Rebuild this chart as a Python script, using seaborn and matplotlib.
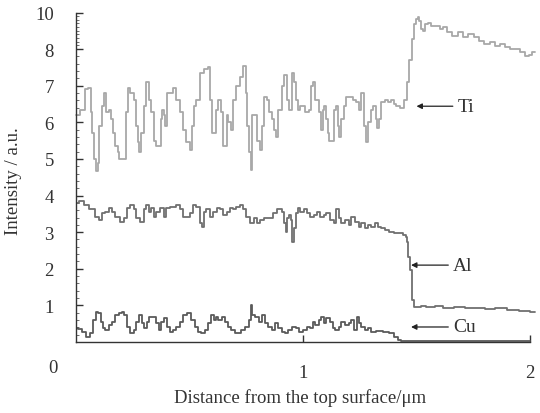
"""
EDX line profile: Ti, Al, Cu intensity vs. distance from the top surface
"""

import numpy as np
import pandas as pd
import matplotlib
matplotlib.use("Agg")
import matplotlib.pyplot as plt
import seaborn as sns
from matplotlib.ticker import FixedLocator, MultipleLocator

sns.set_style("ticks")
plt.rcParams['font.family'] = ['Liberation Serif', 'DejaVu Serif']
plt.rcParams['mathtext.fontset'] = 'stix'

# ---- data ----
ti_x = [0.000, 0.031, 0.048, 0.062, 0.070, 0.075, 0.084, 0.093, 0.101, 0.106,
        0.119, 0.128, 0.137, 0.150, 0.159, 0.163, 0.181, 0.185, 0.194, 0.216,
        0.225, 0.233, 0.247, 0.260, 0.269, 0.273, 0.282, 0.291, 0.304, 0.313,
        0.326, 0.339, 0.348, 0.357, 0.370, 0.379, 0.383, 0.392, 0.396, 0.405,
        0.423, 0.436, 0.449, 0.467, 0.480, 0.493, 0.511, 0.515, 0.524, 0.537,
        0.555, 0.577, 0.586, 0.595, 0.599, 0.612, 0.621, 0.634, 0.643, 0.648,
        0.661, 0.665, 0.678, 0.687, 0.692, 0.700, 0.714, 0.731, 0.744, 0.753,
        0.758, 0.767, 0.771, 0.780, 0.797, 0.802, 0.815, 0.824, 0.833, 0.846,
        0.855, 0.868, 0.877, 0.885, 0.899, 0.912, 0.925, 0.934, 0.947, 0.956,
        0.965, 0.974, 0.978, 0.996, 1.018, 1.031, 1.040, 1.044, 1.062, 1.075,
        1.084, 1.088, 1.097, 1.106, 1.110, 1.119, 1.132, 1.141, 1.150, 1.154,
        1.163, 1.172, 1.185, 1.194, 1.216, 1.225, 1.238, 1.251, 1.264, 1.273,
        1.282, 1.291, 1.304, 1.313, 1.326, 1.330, 1.339, 1.352, 1.370, 1.383,
        1.396, 1.405, 1.418, 1.440, 1.454, 1.462, 1.476, 1.484, 1.493, 1.502,
        1.507, 1.515, 1.524, 1.533, 1.546, 1.559, 1.573, 1.595, 1.612, 1.625,
        1.647, 1.670, 1.692, 1.714, 1.744, 1.766, 1.788, 1.810, 1.837, 1.859,
        1.881, 1.903, 1.925, 1.943, 1.965, 1.987, 2.000, 2.022]
ti_y = [6.2, 6.35, 6.9, 6.95, 6.27, 5.7, 5.0, 4.66, 4.9, 5.9,
        6.45, 6.8, 6.27, 6.35, 6.1, 5.7, 5.35, 5.2, 5.0, 5.0,
        6.27, 6.95, 6.8, 6.6, 5.9, 5.45, 5.2, 5.7, 6.45, 7.1,
        6.6, 6.27, 5.5, 5.35, 5.35, 6.1, 6.35, 6.2, 5.9, 6.8,
        6.8, 6.95, 6.6, 6.27, 5.8, 5.45, 5.25, 5.9, 6.45, 6.6,
        7.35, 7.45, 7.5, 6.6, 5.7, 5.7, 6.35, 6.6, 6.27, 5.35,
        5.35, 6.2, 6.0, 5.8, 6.6, 6.6, 7.0, 7.25, 7.55, 6.8,
        5.9, 5.2, 4.7, 6.2, 6.2, 5.5, 5.25, 5.9, 6.7, 6.6,
        6.27, 6.1, 5.8, 5.6, 6.35, 7.0, 7.3, 6.6, 6.35, 7.35,
        7.1, 6.6, 6.35, 6.45, 6.27, 6.35, 7.0, 7.1, 6.6, 6.27,
        5.8, 6.35, 6.45, 6.1, 5.7, 5.5, 5.5, 6.35, 6.45, 5.9,
        5.6, 6.1, 6.45, 6.7, 6.7, 6.6, 6.55, 6.35, 6.8, 5.9,
        5.45, 6.0, 6.35, 6.45, 6.1, 5.85, 6.1, 6.55, 6.6, 6.55,
        6.6, 6.5, 6.45, 6.4, 6.6, 7.1, 7.7, 8.55, 9.37, 9.64,
        9.75, 9.53, 9.1, 9.0, 9.37, 9.42, 9.26, 9.26, 9.1, 9.2,
        8.93, 8.7, 8.93, 8.66, 8.82, 8.66, 8.44, 8.27, 8.38, 8.16,
        8.27, 8.1, 8.0, 8.03, 7.92, 7.8, 7.83, 7.92]

al_x = [0.004, 0.026, 0.048, 0.070, 0.093, 0.106, 0.119, 0.137, 0.150, 0.163,
        0.181, 0.203, 0.216, 0.229, 0.247, 0.260, 0.273, 0.291, 0.304, 0.313,
        0.326, 0.339, 0.348, 0.361, 0.379, 0.392, 0.405, 0.423, 0.436, 0.449,
        0.467, 0.480, 0.493, 0.511, 0.524, 0.537, 0.555, 0.559, 0.568, 0.581,
        0.599, 0.612, 0.626, 0.643, 0.656, 0.670, 0.687, 0.700, 0.714, 0.731,
        0.744, 0.758, 0.775, 0.789, 0.802, 0.819, 0.841, 0.863, 0.877, 0.890,
        0.899, 0.912, 0.921, 0.929, 0.934, 0.943, 0.951, 0.956, 0.965, 0.974,
        0.978, 0.996, 1.009, 1.022, 1.040, 1.053, 1.066, 1.084, 1.097, 1.110,
        1.128, 1.141, 1.150, 1.163, 1.176, 1.194, 1.207, 1.220, 1.238, 1.251,
        1.264, 1.282, 1.295, 1.308, 1.326, 1.339, 1.352, 1.370, 1.392, 1.414,
        1.436, 1.449, 1.458, 1.462, 1.467, 1.476, 1.480, 1.484, 1.493, 1.507,
        1.529, 1.559, 1.603, 1.634, 1.692, 1.736, 1.780, 1.824, 1.868, 1.925,
        1.978, 2.022]
al_y = [3.81, 3.84, 3.75, 3.62, 3.42, 3.34, 3.53, 3.56, 3.67, 3.56,
        3.42, 3.29, 3.4, 3.67, 3.75, 3.62, 3.4, 3.29, 3.62, 3.75,
        3.56, 3.67, 3.42, 3.56, 3.67, 3.42, 3.67, 3.7, 3.7, 3.75,
        3.62, 3.42, 3.42, 3.53, 3.75, 3.7, 3.26, 3.15, 3.56, 3.62,
        3.42, 3.56, 3.67, 3.62, 3.48, 3.56, 3.67, 3.62, 3.7, 3.75,
        3.62, 3.42, 3.26, 3.4, 3.26, 3.34, 3.4, 3.4, 3.53, 3.62,
        3.62, 3.56, 3.26, 3.0, 3.4, 3.48, 3.34, 2.74, 3.12, 3.53,
        3.67, 3.56, 3.62, 3.53, 3.42, 3.48, 3.56, 3.42, 3.48, 3.53,
        3.34, 3.26, 3.62, 3.4, 3.26, 3.34, 3.2, 3.42, 3.29, 3.15,
        3.26, 3.12, 3.2, 3.15, 3.26, 3.15, 3.12, 3.07, 3.01, 2.98,
        2.98, 2.93, 2.88, 2.74, 2.33, 1.97, 1.7, 1.15, 0.96, 0.96,
        0.99, 0.95, 0.97, 0.94, 0.96, 0.93, 0.93, 0.91, 0.92, 0.88,
        0.86, 0.82]

cu_x = [0.004, 0.018, 0.031, 0.053, 0.070, 0.084, 0.093, 0.101, 0.115, 0.119,
        0.137, 0.150, 0.163, 0.181, 0.194, 0.207, 0.220, 0.229, 0.247, 0.260,
        0.273, 0.286, 0.295, 0.308, 0.317, 0.330, 0.344, 0.357, 0.370, 0.383,
        0.396, 0.405, 0.423, 0.436, 0.449, 0.467, 0.480, 0.502, 0.515, 0.533,
        0.546, 0.559, 0.577, 0.590, 0.603, 0.612, 0.621, 0.634, 0.648, 0.665,
        0.678, 0.692, 0.709, 0.722, 0.736, 0.753, 0.767, 0.775, 0.780, 0.797,
        0.811, 0.824, 0.841, 0.855, 0.868, 0.885, 0.899, 0.912, 0.929, 0.943,
        0.956, 0.978, 0.987, 1.009, 1.022, 1.040, 1.044, 1.062, 1.075, 1.084,
        1.097, 1.110, 1.128, 1.132, 1.150, 1.163, 1.176, 1.194, 1.207, 1.220,
        1.233, 1.242, 1.251, 1.264, 1.282, 1.295, 1.308, 1.339, 1.370, 1.392,
        1.414, 1.427, 1.440, 1.559, 1.692, 1.824, 2.000]
cu_y = [0.38, 0.36, 0.27, 0.14, 0.25, 0.6, 0.82, 0.8, 0.55, 0.38,
        0.33, 0.47, 0.55, 0.74, 0.79, 0.82, 0.74, 0.41, 0.25, 0.33,
        0.55, 0.74, 0.52, 0.38, 0.55, 0.68, 0.68, 0.52, 0.33, 0.55,
        0.66, 0.41, 0.27, 0.33, 0.41, 0.55, 0.74, 0.79, 0.6, 0.41,
        0.27, 0.25, 0.33, 0.52, 0.74, 0.6, 0.68, 0.6, 0.68, 0.55,
        0.41, 0.33, 0.25, 0.25, 0.33, 0.41, 0.6, 1.01, 0.74, 0.68,
        0.55, 0.74, 0.52, 0.41, 0.33, 0.52, 0.38, 0.27, 0.25, 0.33,
        0.41, 0.38, 0.27, 0.33, 0.41, 0.38, 0.55, 0.47, 0.6, 0.68,
        0.52, 0.66, 0.55, 0.38, 0.33, 0.41, 0.55, 0.47, 0.52, 0.6,
        0.33, 0.68, 0.52, 0.41, 0.33, 0.38, 0.27, 0.3, 0.27, 0.25,
        0.14, 0.06, 0.04, 0.04, 0.04, 0.04, 0.04]

series_names = ['Ti', 'Al', 'Cu']
series_colors = {'Ti': '#a8a8a8', 'Al': '#707070', 'Cu': '#5a5a5a'}
y_ticks = [1, 2, 3, 4, 5, 6, 7, 8, 10]
x_ticks = [1, 2]

# label arrows: (arrow head x, tail x, y)
arrow_pos = {'Ti': (1.50, 1.66, 6.44), 'Al': (1.476, 1.64, 2.1), 'Cu': (1.476, 1.64, 0.41)}


# y axis is linear up to 8 then compressed by half up to 10
def fwd(v):
    v = np.asarray(v, dtype=float)
    return np.where(v <= 8, v, 8 + (v - 8) / 2.0)


def inv(t):
    t = np.asarray(t, dtype=float)
    return np.where(t <= 8, t, 8 + (t - 8) * 2.0)


frames = []
for name, xs, ys in [('Ti', ti_x, ti_y), ('Al', al_x, al_y), ('Cu', cu_x, cu_y)]:
    frames.append(pd.DataFrame({'x': xs, 'y': ys, 'el': name}))
df = pd.concat(frames, ignore_index=True)

fig = plt.figure(figsize=(5.4, 4.14), dpi=100)
ax = fig.add_axes([76 / 540, 1 - 343 / 414, 454 / 540, (343 - 13.5) / 414])
ax.set_yscale('function', functions=(fwd, inv))

for name in series_names:
    sub = df[df['el'] == name]
    sns.lineplot(data=sub, x='x', y='y', ax=ax, color=series_colors[name],
                 lw=1.3, estimator=None, sort=False, clip_on=False,
                 drawstyle='steps-mid')

ax.set_xlim(0, 2)
ax.set_ylim(0, 10)
ax.yaxis.set_major_locator(FixedLocator(y_ticks))
ax.yaxis.set_minor_locator(MultipleLocator(0.2))
ax.xaxis.set_major_locator(FixedLocator(x_ticks))
ax.set_yticklabels([str(t) for t in y_ticks])
ax.set_xticklabels([str(t) for t in x_ticks])

for s in ['top', 'right']:
    ax.spines[s].set_visible(False)
for s in ['left', 'bottom']:
    ax.spines[s].set_color('#333333')
    ax.spines[s].set_linewidth(1.0)

ax.tick_params(axis='both', which='major', direction='in', length=5, width=1.0,
               color='#333333', labelsize=13.5, labelcolor='#333333', pad=16)
ax.tick_params(axis='y', which='minor', direction='in', length=1.8, width=0.6,
               color='#555555')

# shared origin label
ax.annotate('0', xy=(0, 0), xytext=(-23, -26), textcoords='offset pixels',
            ha='center', va='center', fontsize=13.5, color='#333333',
            annotation_clip=False)

for name in series_names:
    hx, tx, yy = arrow_pos[name]
    ax.annotate('', xy=(hx, yy), xytext=(tx, yy),
                arrowprops=dict(arrowstyle='-|>', color='#222222', lw=0.9,
                                mutation_scale=8, shrinkA=0, shrinkB=0))
    ax.text(tx + 0.02, yy, name, ha='left', va='center', fontsize=14,
            color='#333333')

ax.set_xlabel('Distance from the top surface/\u03bcm', fontsize=13.5, color='#333333')
ax.set_ylabel('Intensity / a.u.', fontsize=13.5, color='#333333')
ax.xaxis.set_label_coords(0.493, -0.14)
ax.yaxis.set_label_coords(-0.12, 0.49)

fig.savefig('out.png', dpi=100)
plt.close(fig)
